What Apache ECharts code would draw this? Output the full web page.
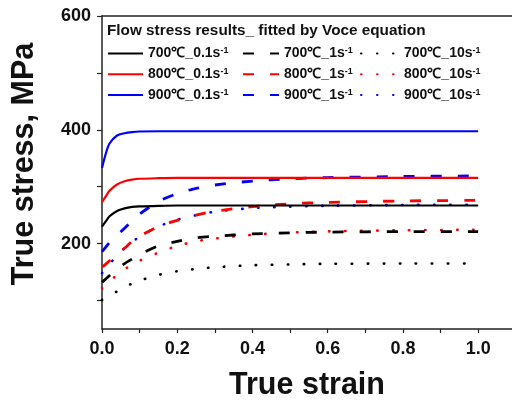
<!DOCTYPE html>
<html>
<head>
<meta charset="utf-8">
<script src="https://cdn.jsdelivr.net/npm/echarts@6/dist/echarts.min.js"></script>
<style>html,body{margin:0;padding:0;background:#fff;}#c{width:512px;height:403px;}</style>
</head>
<body>
<div id="c"></div>
<script>
// Data
var strain = [0, 0.01, 0.02, 0.04, 0.06, 0.08, 0.1, 0.15, 0.2, 0.25, 0.3, 0.4, 0.5, 0.6, 0.8, 1.0];

var s700_01 = [230, 239, 248, 257.5, 262, 264.5, 265.5, 266.5, 267, 267, 267, 267, 267, 267, 267, 267];
var s800_01 = [273, 283, 293, 304, 309.5, 312.5, 314, 315, 315.5, 315.5, 315.5, 315.5, 315.5, 315.5, 315.5, 315.5];
var s900_01 = [333, 358, 376, 390, 394, 396, 397, 397.5, 397.5, 397.5, 397.5, 397.5, 397.5, 397.5, 397.5, 397.5];

var s700_1 = [132, 138, 144, 156, 165, 173, 181, 196, 204, 210, 213, 217, 219, 220.3, 221, 221];
var s800_1 = [159, 164, 170, 181, 192, 204, 213, 230, 241, 250, 257, 265, 270, 272.5, 275, 276];
var s900_1 = [186, 194, 202, 215, 227, 240, 252, 274, 288, 297, 303, 310, 314, 316, 318, 319];

var s700_10 = [101, 105, 109, 116, 123, 130, 135, 145, 151.5, 155.5, 158.5, 162, 163.5, 164.5, 165, 165];
var s800_10 = [122, 128, 134, 145, 155, 163, 170, 184, 196, 204, 209, 215.5, 219.5, 221.5, 223.5, 224.5];
var s900_10 = [148, 156, 164, 179, 192, 203, 212, 230, 242, 250, 256, 262.5, 265, 266.5, 268, 268.5];

var names = {
  n700_01: '700℃_0.1s', n800_01: '800℃_0.1s', n900_01: '900℃_0.1s',
  n700_1: '700℃_1s', n800_1: '800℃_1s', n900_1: '900℃_1s',
  n700_10: '700℃_10s', n800_10: '800℃_10s', n900_10: '900℃_10s'
};
var legendTitle = 'Flow stress results_ fitted by Voce equation';
var xLabels = [0, 0.2, 0.4, 0.6, 0.8, 1.0];
var xTicks = [0, 0.1, 0.2, 0.3, 0.4, 0.5, 0.6, 0.7, 0.8, 0.9, 1.0];
var yLabels = [200, 400, 600];
var yTicks = [100, 200, 300, 400, 500, 600];

function pairs(v) { return strain.map(function (x, i) { return [x, v[i]]; }); }

var BLACK = '#000000', RED = '#ff0000', BLUE = '#0000ff';
var SOLID = 'solid', DASH = [11, 16], DOT = [0.5, 15.5];

function mk(name, vals, color, type, width) {
  return {
    name: name, type: 'line', data: pairs(vals), smooth: 0.3,
    showSymbol: false, symbol: 'none',
    lineStyle: { color: color, width: width, type: type, cap: type === DOT ? 'round' : 'butt' },
    itemStyle: { color: color }
  };
}

var series = [
  mk(names.n700_10, s700_10, BLACK, DOT, 2.6),
  mk(names.n800_10, s800_10, RED, DOT, 2.6),
  mk(names.n900_10, s900_10, BLUE, DOT, 2.6),
  mk(names.n700_1, s700_1, BLACK, DASH, 2.8),
  mk(names.n800_1, s800_1, RED, DASH, 2.8),
  mk(names.n900_1, s900_1, BLUE, DASH, 2.8),
  mk(names.n700_01, s700_01, BLACK, SOLID, 2.2),
  mk(names.n800_01, s800_01, RED, SOLID, 2.2),
  mk(names.n900_01, s900_01, BLUE, SOLID, 2.2)
];

var FONT = 'Liberation Sans, Arial, sans-serif';
function legendCol(left, width, data) {
  return {
    orient: 'vertical', left: left, top: 46, itemWidth: width, itemHeight: 14, itemGap: 6.3,
    data: data, selectedMode: false, padding: 0,
    itemStyle: { color: 'transparent', borderColor: 'transparent', borderWidth: 0, opacity: 0 },
    formatter: function (n) { return '{b|' + n + '}{sup|-1}'; },
    textStyle: {
      rich: {
        b: { fontFamily: FONT, fontWeight: 'bold', fontSize: 14, color: '#111', lineHeight: 15 },
        sup: { fontFamily: FONT, fontWeight: 'bold', fontSize: 9, color: '#111', verticalAlign: 'top', lineHeight: 9 }
      }
    }
  };
}

var chart = echarts.init(document.getElementById('c'), null, { renderer: 'canvas' });
chart.setOption({
  animation: false,
  backgroundColor: '#ffffff',
  title: {
    text: legendTitle, left: 107, top: 23, padding: 0,
    textStyle: { fontFamily: FONT, fontWeight: 'bold', fontSize: 15.3, color: '#111' }
  },
  legend: [
    legendCol(107, 35, [names.n700_01, names.n800_01, names.n900_01]),
    legendCol(242, 36, [names.n700_1, names.n800_1, names.n900_1]),
    legendCol(360, 38, [names.n700_10, names.n800_10, names.n900_10])
  ],
  grid: { left: 102, top: 16, right: 0, bottom: 74, containLabel: false, outerBoundsMode: 'none' },
  xAxis: [{
    type: 'value', min: 0, max: 1.09, position: 'bottom',
    name: 'True strain', nameLocation: 'middle', nameGap: 41,
    nameTextStyle: { fontFamily: FONT, fontWeight: 'bold', fontSize: 30.5, color: '#111' },
    axisLine: { show: true, lineStyle: { color: '#222', width: 1.5 } },
    axisTick: { show: true, length: 4, customValues: xTicks, lineStyle: { color: '#222', width: 1.2 } },
    axisLabel: {
      customValues: xLabels, margin: 11, fontFamily: FONT, fontWeight: 'bold', fontSize: 18, color: '#111',
      formatter: function (v) { return v.toFixed(1); }
    },
    splitLine: { show: false }
  }, {
    type: 'value', min: 0, max: 1.09, position: 'top',
    axisLine: { show: true, lineStyle: { color: '#222', width: 1.5 } },
    axisTick: { show: false }, axisLabel: { show: false }, splitLine: { show: false }
  }],
  yAxis: {
    type: 'value', min: 50, max: 600,
    name: 'True stress, MPa', nameLocation: 'middle', nameGap: 62, nameRotate: 90,
    nameTextStyle: { fontFamily: FONT, fontWeight: 'bold', fontSize: 30.5, color: '#111', padding: [0, 0, 0, 17] },
    axisLine: { show: true, lineStyle: { color: '#222', width: 1.5 } },
    axisTick: { show: true, length: 5, customValues: yTicks, lineStyle: { color: '#222', width: 1.2 } },
    axisLabel: { customValues: yLabels, margin: 11, fontFamily: FONT, fontWeight: 'bold', fontSize: 18, color: '#111' },
    splitLine: { show: false }
  },
  series: series
});
</script>
</body>
</html>
